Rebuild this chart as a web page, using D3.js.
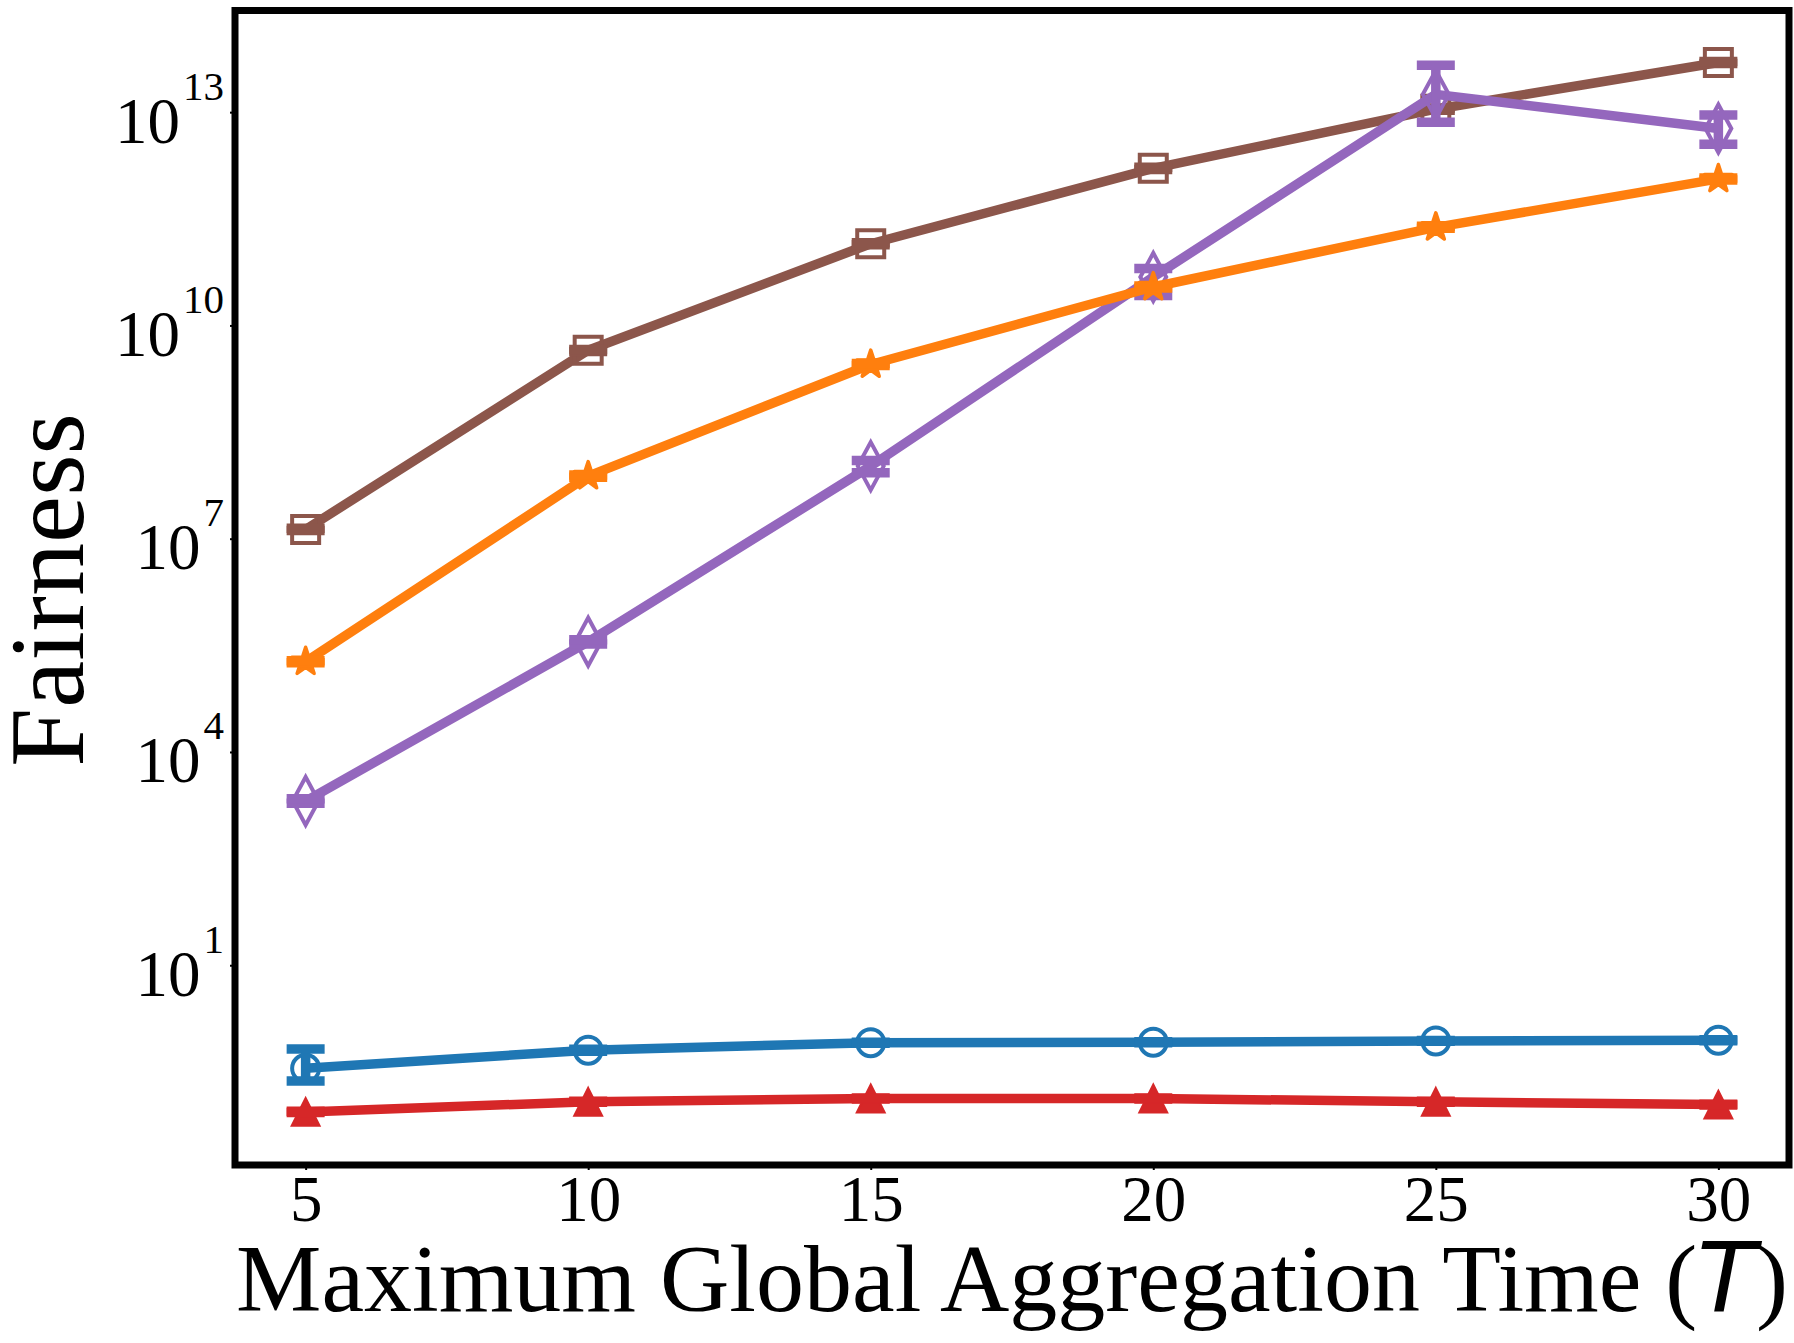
<!DOCTYPE html>
<html>
<head>
<meta charset="utf-8">
<script src="https://cdn.jsdelivr.net/npm/d3@7"></script>
<style>
	body { margin: 0; background: #fff; }
	svg { display: block; }
</style>
</head>
<body>
<svg id="chart" width="1794" height="1343"></svg>
<script>
// values (y is Fairness, log scale)
var tValues = [5, 10, 15, 20, 25, 30];
var xTickValues = [5, 10, 15, 20, 25, 30];
var yTickExponents = [1, 4, 7, 10, 13];

var circleVals = [0.355, 0.638, 0.813, 0.826, 0.861, 0.881];
var circleLo   = [0.236, 0.615, 0.80, 0.815, 0.85, 0.87];
var circleHi   = [0.665, 0.66, 0.826, 0.838, 0.872, 0.892];

var triangleVals = [0.0865, 0.120, 0.1334, 0.1334, 0.120, 0.1096];
var triangleLo   = [0.085, 0.118, 0.131, 0.131, 0.118, 0.108];
var triangleHi   = [0.088, 0.122, 0.136, 0.136, 0.122, 0.111];

var squareVals = [1.35e7, 4.47e9, 1.41e11, 1.62e12, 1.10e13, 5.0e13];
var squareLo   = [1.3e7, 4.3e9, 1.36e11, 1.56e12, 1.06e13, 4.85e13];
var squareHi   = [1.4e7, 4.6e9, 1.46e11, 1.68e12, 1.14e13, 5.15e13];

var diamondVals = [2.04e3, 3.55e5, 1.05e8, 4.8e10, 1.78e13, 5.9e12];
var diamondLo   = [1.9e3, 3.31e5, 8.5e7, 2.63e10, 7.2e12, 3.55e12];
var diamondHi   = [2.19e3, 3.8e5, 1.26e8, 6.3e10, 4.57e13, 9.1e12];

var starVals = [1.86e5, 7.6e7, 2.82e9, 3.47e10, 2.4e11, 1.15e12];
var starLo   = [1.8e5, 7.3e7, 2.72e9, 3.35e10, 2.32e11, 1.11e12];
var starHi   = [1.92e5, 7.9e7, 2.92e9, 3.6e10, 2.48e11, 1.19e12];

var margin = {top: 10.5, right: 5, bottom: 178, left: 235},
	width = 1794 - margin.left - margin.right,
	height = 1343 - margin.top - margin.bottom;

var serif = "'Liberation Serif', 'Times New Roman', serif";
var lineW = 9.5;

var x = d3.scaleLinear().domain([3.75, 31.25]).range([0, width]);
var y = d3.scaleLog().domain([Math.pow(10, -1.81), Math.pow(10, 14.43)]).range([height, 0]);

// custom marker shapes
var thinDiamond = {
	draw: function(ctx, size) {
		var h = Math.sqrt(size), w = h * 0.54;
		ctx.moveTo(0, -h / 2); ctx.lineTo(w / 2, 0); ctx.lineTo(0, h / 2); ctx.lineTo(-w / 2, 0); ctx.closePath();
	}
};
var boxTriangle = {
	draw: function(ctx, size) {
		var s = Math.sqrt(size);
		ctx.moveTo(0, -s / 2); ctx.lineTo(s / 2, s / 2); ctx.lineTo(-s / 2, s / 2); ctx.closePath();
	}
};

function makeSeries(vals, lo, hi) {
	return tValues.map(function(t, i) { return {t: t, v: vals[i], lo: lo[i], hi: hi[i]}; });
}

// draw order matters: later series sit on top
var series = [
	{name: "circle", color: "#1f77b4", data: makeSeries(circleVals, circleLo, circleHi),
		type: d3.symbolCircle, size: 573, fill: "none", edge: 4},
	{name: "triangle", color: "#d62728", data: makeSeries(triangleVals, triangleLo, triangleHi),
		type: boxTriangle, size: 780, fill: "#d62728", edge: 2},
	{name: "square", color: "#8c564b", data: makeSeries(squareVals, squareLo, squareHi),
		type: d3.symbolSquare, size: 729, fill: "none", edge: 4},
	{name: "diamond", color: "#9467bd", data: makeSeries(diamondVals, diamondLo, diamondHi),
		type: thinDiamond, size: 2300, fill: "none", edge: 4},
	{name: "star", color: "#ff7f0e", data: makeSeries(starVals, starLo, starHi),
		type: d3.symbolStar, size: 235, fill: "#ff7f0e", edge: 3.5}
];

var svg = d3.select("#chart");
var g = svg.append("g")
	.attr("transform", "translate(" + margin.left + "," + margin.top + ")");

// axes
var xAxis = g.append("g")
	.attr("class", "axis axis--x")
	.attr("transform", "translate(0," + height + ")")
	.call(d3.axisBottom(x).tickValues(xTickValues).tickSize(5).tickSizeOuter(0));
xAxis.select(".domain").remove();
xAxis.selectAll("line").attr("stroke", "#000").attr("stroke-width", 2);
xAxis.selectAll("text")
	.attr("y", 56).attr("dy", null)
	.style("font-family", serif)
	.style("font-size", "65px")
	.attr("fill", "#000");

var yAxis = g.append("g")
	.attr("class", "axis axis--y")
	.call(d3.axisLeft(y)
		.tickValues(yTickExponents.map(function(e) { return Math.pow(10, e); }))
		.tickSize(5).tickSizeOuter(0).tickFormat(""));
yAxis.select(".domain").remove();
yAxis.selectAll("line").attr("stroke", "#000").attr("stroke-width", 2);
yAxis.selectAll(".tick").each(function(d) {
	var e = Math.round(Math.log10(d));
	var txt = d3.select(this).select("text")
		.attr("x", -11).attr("y", 30).attr("dy", null)
		.attr("text-anchor", "end")
		.style("font-family", serif)
		.attr("fill", "#000");
	txt.append("tspan").style("font-size", "65px").text("10");
	txt.append("tspan").style("font-size", "41px").attr("dx", 3).attr("dy", -43).text(e);
});

// series
series.forEach(function(s) {
	var sg = g.append("g").attr("class", "series " + s.name);

	var line = d3.line()
		.x(function(d) { return x(d.t); })
		.y(function(d) { return y(d.v); });

	sg.append("path")
		.datum(s.data)
		.attr("d", line)
		.attr("fill", "none")
		.attr("stroke", s.color)
		.attr("stroke-width", lineW)
		.attr("stroke-linejoin", "round");

	sg.selectAll(".marker")
		.data(s.data)
		.enter().append("path")
		.attr("class", "marker")
		.attr("transform", function(d) { return "translate(" + x(d.t) + "," + y(d.v) + ")"; })
		.attr("d", d3.symbol().type(s.type).size(s.size))
		.attr("fill", s.fill)
		.attr("stroke", s.color)
		.attr("stroke-width", s.edge)
		.attr("stroke-linejoin", s.name === "star" ? "round" : "miter");

	sg.selectAll(".ebar")
		.data(s.data)
		.enter().append("line")
		.attr("class", "ebar")
		.attr("x1", function(d) { return x(d.t); })
		.attr("x2", function(d) { return x(d.t); })
		.attr("y1", function(d) { return y(d.lo); })
		.attr("y2", function(d) { return y(d.hi); })
		.attr("stroke", s.color)
		.attr("stroke-width", lineW);

	["lo", "hi"].forEach(function(k) {
		sg.selectAll(".cap-" + k)
			.data(s.data)
			.enter().append("line")
			.attr("class", "cap-" + k)
			.attr("x1", function(d) { return x(d.t) - 19; })
			.attr("x2", function(d) { return x(d.t) + 19; })
			.attr("y1", function(d) { return y(d[k]); })
			.attr("y2", function(d) { return y(d[k]); })
			.attr("stroke", s.color)
			.attr("stroke-width", lineW);
	});
});

// frame
g.append("rect")
	.attr("x", 0).attr("y", 0)
	.attr("width", width).attr("height", height)
	.attr("fill", "none")
	.attr("stroke", "#000")
	.attr("stroke-width", 7);

// labels
svg.append("text")
	.attr("transform", "translate(83,590) rotate(-90)")
	.attr("text-anchor", "middle")
	.style("font-family", serif)
	.style("font-size", "106px")
	.attr("fill", "#000")
	.text("Fairness");

var xl = svg.append("text")
	.attr("x", margin.left + width / 2)
	.attr("y", 1311)
	.attr("text-anchor", "middle")
	.style("font-family", serif)
	.style("font-size", "96px")
	.attr("fill", "#000");
xl.append("tspan").text("Maximum Global Aggregation Time (");
xl.append("tspan").style("font-family", "'DejaVu Sans', sans-serif").style("font-style", "italic").text("T");
xl.append("tspan").text(")");
</script>
</body>
</html>
